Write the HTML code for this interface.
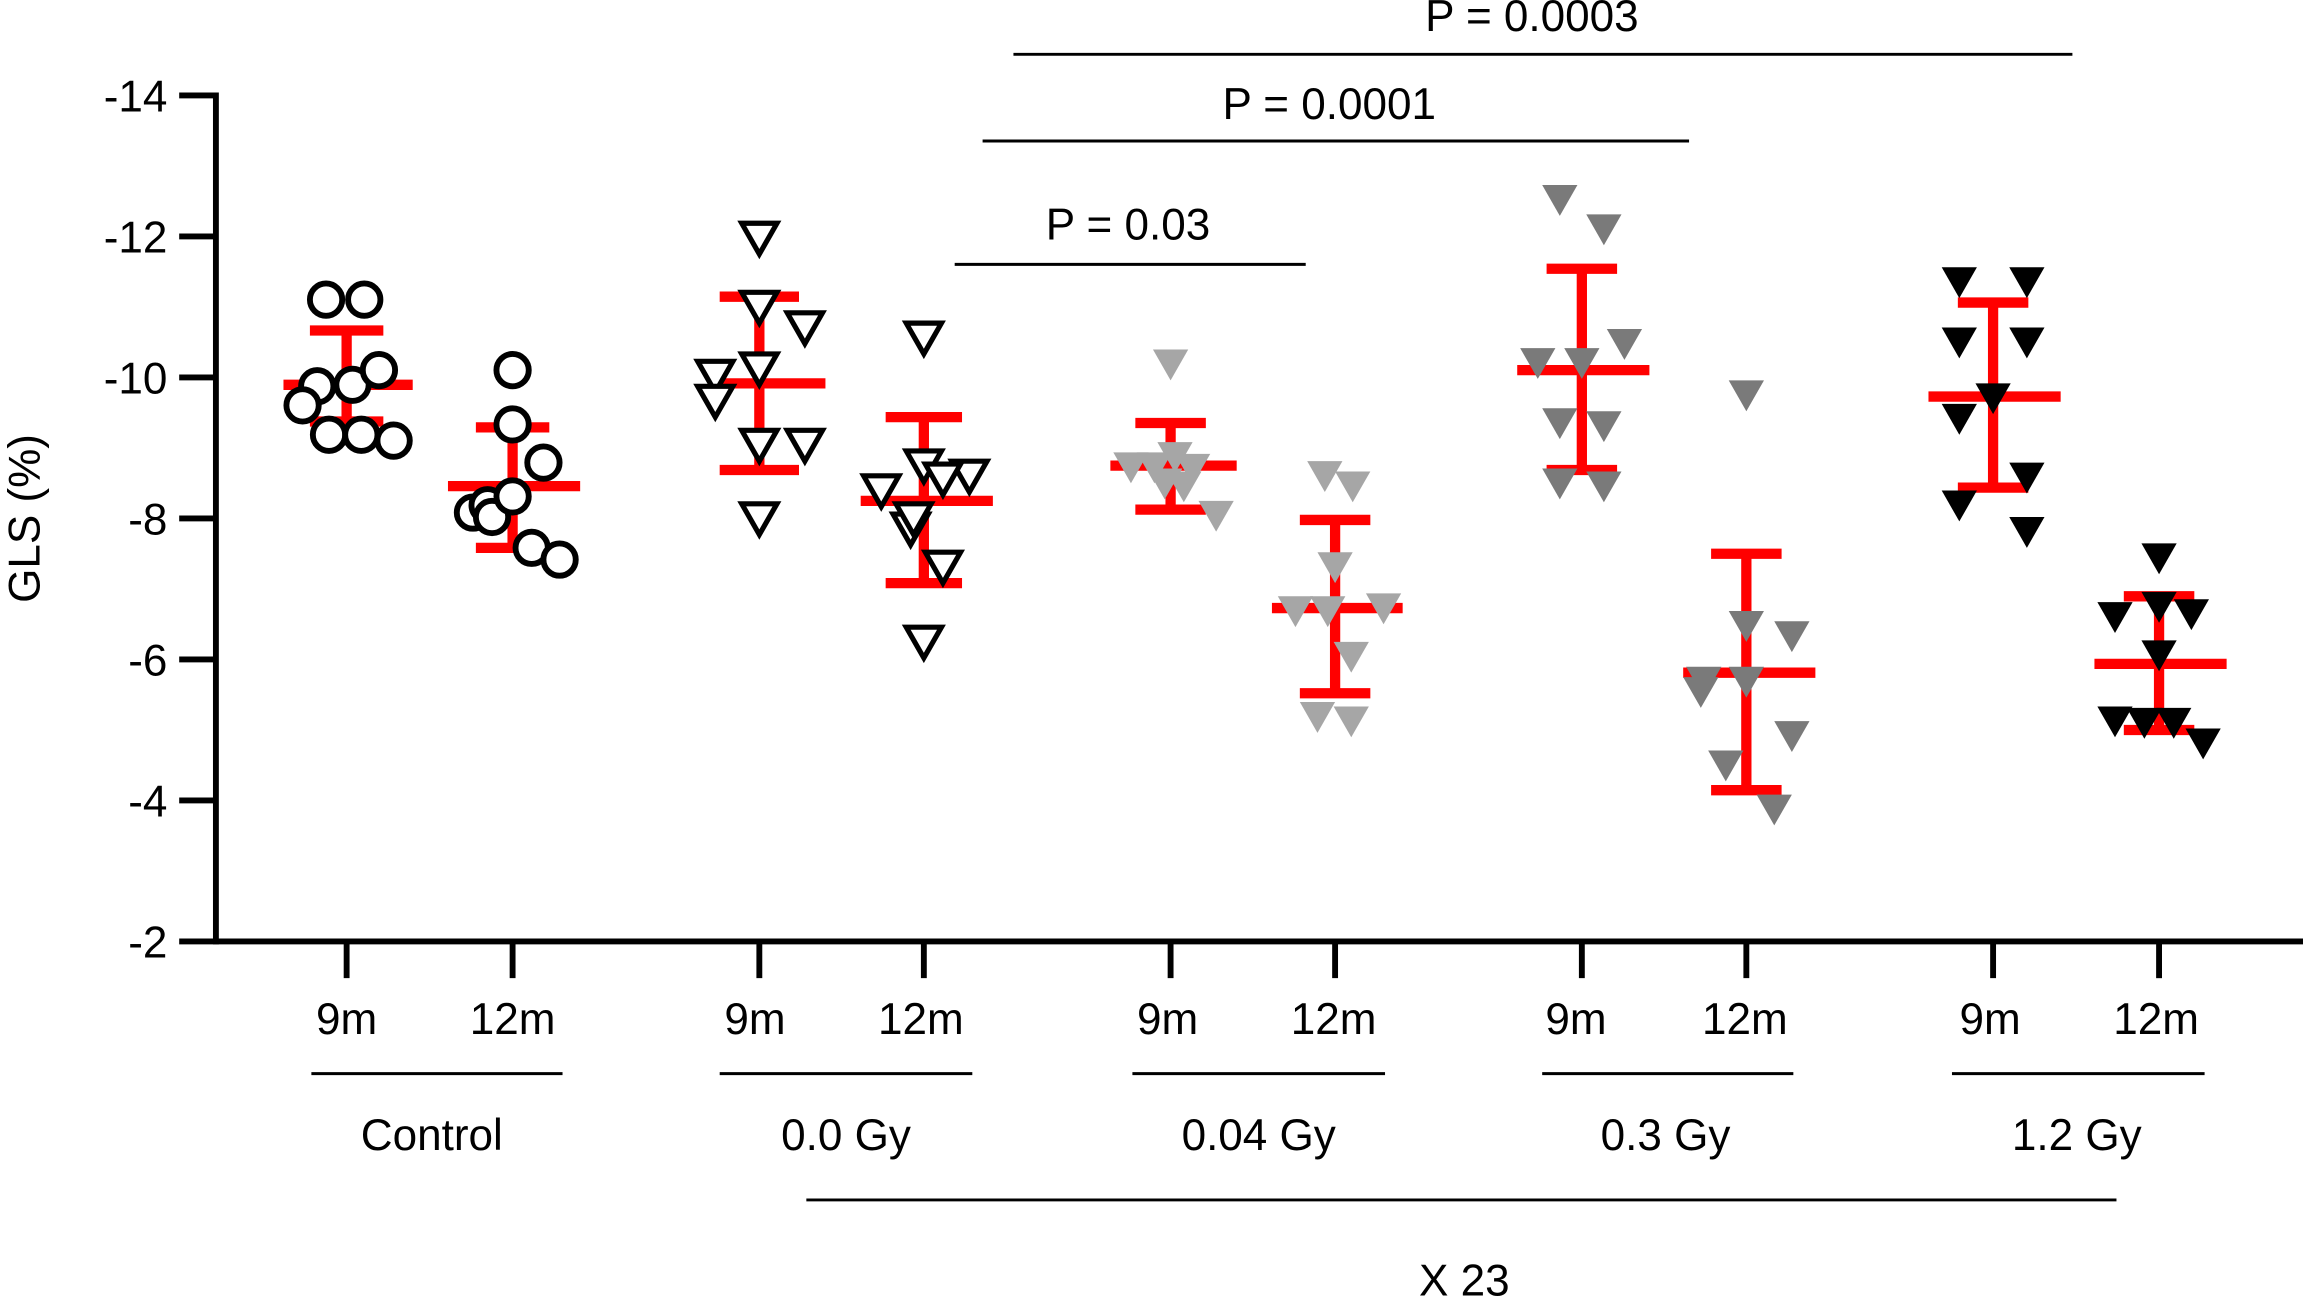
<!DOCTYPE html>
<html><head><style>html,body{margin:0;padding:0;background:#fff;overflow:hidden}svg{display:block}text{font-family:"Liberation Sans",Arial,sans-serif;fill:#000}</style></head>
<body>
<svg width="2303" height="1296" viewBox="0 0 1568 882.4" preserveAspectRatio="none" xmlns="http://www.w3.org/2000/svg">
<defs>
<path id="tri" d="M-12,-9 L12,-9 L0,12 Z"/>
</defs>
<g stroke="#000" stroke-width="4" fill="none">
<line x1="147" y1="63" x2="147" y2="643"/>
<line x1="122" y1="641" x2="1568" y2="641"/>
<line x1="122" y1="65" x2="147" y2="65"/><line x1="122" y1="161" x2="147" y2="161"/><line x1="122" y1="257" x2="147" y2="257"/><line x1="122" y1="353" x2="147" y2="353"/><line x1="122" y1="449" x2="147" y2="449"/><line x1="122" y1="545" x2="147" y2="545"/>
<line x1="236" y1="641" x2="236" y2="666"/><line x1="349" y1="641" x2="349" y2="666"/><line x1="517" y1="641" x2="517" y2="666"/><line x1="629" y1="641" x2="629" y2="666"/><line x1="797" y1="641" x2="797" y2="666"/><line x1="909" y1="641" x2="909" y2="666"/><line x1="1077" y1="641" x2="1077" y2="666"/><line x1="1189" y1="641" x2="1189" y2="666"/><line x1="1357" y1="641" x2="1357" y2="666"/><line x1="1470" y1="641" x2="1470" y2="666"/>
</g>
<g font-size="30" text-anchor="end">
<text x="114" y="76">-14</text><text x="114" y="172">-12</text><text x="114" y="268">-10</text><text x="114" y="364">-8</text><text x="114" y="460">-6</text><text x="114" y="556">-4</text><text x="114" y="652">-2</text>
</g>
<text transform="translate(27,353) rotate(-90)" font-size="30" text-anchor="middle">GLS (%)</text>
<g font-size="30" text-anchor="middle">
<text x="236" y="704">9m</text><text x="349" y="704">12m</text><text x="514" y="704">9m</text><text x="627" y="704">12m</text><text x="795" y="704">9m</text><text x="908" y="704">12m</text><text x="1073" y="704">9m</text><text x="1188" y="704">12m</text><text x="1355" y="704">9m</text><text x="1468" y="704">12m</text>
<text x="294" y="783">Control</text><text x="576" y="783">0.0 Gy</text><text x="857" y="783">0.04 Gy</text><text x="1134" y="783">0.3 Gy</text><text x="1414" y="783">1.2 Gy</text>
<text x="997" y="882">X 23</text>
<text x="768" y="163">P = 0.03</text><text x="905" y="81">P = 0.0001</text><text x="1043" y="21">P = 0.0003</text>
</g>
<g stroke="#000" stroke-width="2">
<line x1="212" y1="731" x2="383" y2="731"/><line x1="490" y1="731" x2="662" y2="731"/><line x1="771" y1="731" x2="943" y2="731"/><line x1="1050" y1="731" x2="1221" y2="731"/><line x1="1329" y1="731" x2="1501" y2="731"/>
<line x1="549" y1="817" x2="1441" y2="817"/>
<line x1="650" y1="180" x2="889" y2="180"/><line x1="669" y1="96" x2="1150" y2="96"/><line x1="690" y1="37" x2="1411" y2="37"/>
</g>
<g stroke="#f00" stroke-width="7" fill="none">
<path d="M193,262H281M236,225V296M211,225H261M211,287H261"/>
<path d="M305,331H395M349,291V373M324,291H374M324,373H374"/>
<path d="M487,261H562M517,202V320M490,202H544M490,320H544"/>
<path d="M586,341H676M629,284V397M603,284H655M603,397H655"/>
<path d="M756,317H842M797,288V347M773,288H821M773,347H821"/>
<path d="M866,414H955M909,354V472M885,354H933M885,472H933"/>
<path d="M1033,252H1123M1077,183V320M1053,183H1101M1053,320H1101"/>
<path d="M1146,458H1236M1189,377V538M1165,377H1213M1165,538H1213"/>
<path d="M1313,270H1403M1357,206V332M1333,206H1381M1333,332H1381"/>
<path d="M1426,452H1516M1470,406V497M1446,406H1494M1446,497H1494"/>
</g>
<g fill="#fff" stroke="#000" stroke-width="4">
<circle cx="222" cy="204" r="11"/><circle cx="248" cy="204" r="11"/><circle cx="216" cy="263" r="11"/><circle cx="240" cy="262" r="11"/><circle cx="258" cy="252" r="11"/><circle cx="206" cy="276" r="11"/><circle cx="224" cy="296" r="11"/><circle cx="246" cy="296" r="11"/><circle cx="268" cy="300" r="11"/>
<circle cx="349" cy="252" r="11"/><circle cx="349" cy="289" r="11"/><circle cx="370" cy="315" r="11"/><circle cx="322" cy="349" r="11"/><circle cx="332" cy="344" r="11"/><circle cx="335" cy="352" r="11"/><circle cx="349" cy="338" r="11"/><circle cx="362" cy="373" r="11"/><circle cx="381" cy="381" r="11"/>
</g>
<g fill="#fff" stroke="#000" stroke-width="3.5">
<use href="#tri" x="517" y="161"/><use href="#tri" x="517" y="208"/><use href="#tri" x="548" y="222"/><use href="#tri" x="487" y="255"/><use href="#tri" x="517" y="250"/><use href="#tri" x="487" y="272"/><use href="#tri" x="517" y="302"/><use href="#tri" x="548" y="302"/><use href="#tri" x="517" y="352"/>
<use href="#tri" x="629" y="229"/><use href="#tri" x="600" y="333"/><use href="#tri" x="629" y="316"/><use href="#tri" x="660" y="323"/><use href="#tri" x="642" y="325"/><use href="#tri" x="620" y="359"/><use href="#tri" x="622" y="352"/><use href="#tri" x="642" y="385"/><use href="#tri" x="629" y="436"/>
</g>
<g fill="#a6a6a6">
<use href="#tri" x="797" y="247"/><use href="#tri" x="770" y="317"/><use href="#tri" x="786" y="317"/><use href="#tri" x="800" y="310"/><use href="#tri" x="812" y="318"/><use href="#tri" x="828" y="350"/><use href="#tri" x="806" y="330"/><use href="#tri" x="793" y="328"/>
<use href="#tri" x="902" y="323"/><use href="#tri" x="921" y="330"/><use href="#tri" x="909" y="385"/><use href="#tri" x="882" y="415"/><use href="#tri" x="904" y="415"/><use href="#tri" x="942" y="413"/><use href="#tri" x="920" y="446"/><use href="#tri" x="897" y="487"/><use href="#tri" x="920" y="490"/>
</g>
<g fill="#7a7a7a">
<use href="#tri" x="1062" y="135"/><use href="#tri" x="1092" y="155"/><use href="#tri" x="1106" y="233"/><use href="#tri" x="1047" y="246"/><use href="#tri" x="1077" y="246"/><use href="#tri" x="1062" y="287"/><use href="#tri" x="1092" y="289"/><use href="#tri" x="1062" y="328"/><use href="#tri" x="1092" y="330"/>
<use href="#tri" x="1189" y="268"/><use href="#tri" x="1160" y="463"/><use href="#tri" x="1189" y="463"/><use href="#tri" x="1189" y="425"/><use href="#tri" x="1220" y="432"/><use href="#tri" x="1220" y="500"/><use href="#tri" x="1175" y="520"/><use href="#tri" x="1208" y="550"/><use href="#tri" x="1158" y="470"/>
</g>
<g fill="#000">
<use href="#tri" x="1334" y="191"/><use href="#tri" x="1380" y="191"/><use href="#tri" x="1334" y="232"/><use href="#tri" x="1380" y="232"/><use href="#tri" x="1357" y="270"/><use href="#tri" x="1334" y="284"/><use href="#tri" x="1380" y="324"/><use href="#tri" x="1334" y="343"/><use href="#tri" x="1380" y="361"/>
<use href="#tri" x="1470" y="379"/><use href="#tri" x="1470" y="412"/><use href="#tri" x="1440" y="419"/><use href="#tri" x="1492" y="417"/><use href="#tri" x="1470" y="445"/><use href="#tri" x="1440" y="490"/><use href="#tri" x="1460" y="491"/><use href="#tri" x="1480" y="491"/><use href="#tri" x="1500" y="505"/>
</g>
</svg>
</body></html>
